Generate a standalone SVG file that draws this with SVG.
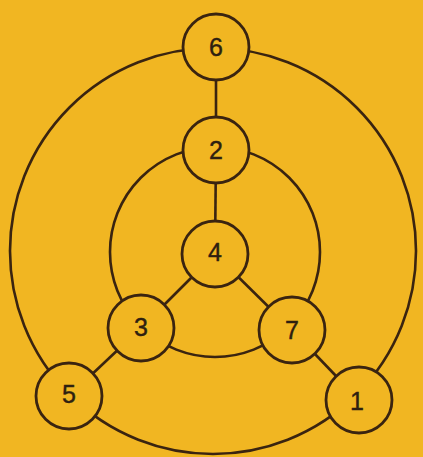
<svg xmlns="http://www.w3.org/2000/svg" width="423" height="457" viewBox="0 0 423 457">
<style>
.ring{fill:none;stroke:#3a2410;stroke-width:2.6}
.edge{stroke:#3a2410;stroke-width:2.6}
.node circle{fill:#f1b622;stroke:#3a2410;stroke-width:2.8}
.node text{font-family:"Liberation Sans",Arial,sans-serif;font-size:25px;fill:#2e2010;stroke:#2e2010;stroke-width:0.4;text-anchor:middle;dominant-baseline:central}
</style>
<rect width="423" height="457" fill="#f1b622"/>
<g id="connectors">
<circle class="ring" cx="213" cy="251" r="203"/>
<circle class="ring" cx="215" cy="252" r="105"/>
<line class="edge" x1="216" y1="47" x2="216" y2="150"/>
<line class="edge" x1="216" y1="150" x2="215" y2="254"/>
<line class="edge" x1="215" y1="254" x2="141" y2="328"/>
<line class="edge" x1="215" y1="254" x2="292" y2="330"/>
<line class="edge" x1="141" y1="328" x2="69" y2="396"/>
<line class="edge" x1="292" y1="330" x2="359" y2="400"/>
</g>
<g id="node6" class="node"><circle cx="216" cy="47" r="33"/><text x="216" y="47">6</text></g>
<g id="node2" class="node"><circle cx="216" cy="150" r="33"/><text x="216" y="150">2</text></g>
<g id="node4" class="node"><circle cx="215" cy="254" r="33"/><text x="215" y="252">4</text></g>
<g id="node3" class="node"><circle cx="141" cy="328" r="33"/><text x="141" y="327">3</text></g>
<g id="node7" class="node"><circle cx="292" cy="330" r="33"/><text x="292" y="330">7</text></g>
<g id="node5" class="node"><circle cx="69" cy="396" r="33"/><text x="69" y="394">5</text></g>
<g id="node1" class="node"><circle cx="359" cy="400" r="33"/><text x="357" y="401">1</text></g>
</svg>
